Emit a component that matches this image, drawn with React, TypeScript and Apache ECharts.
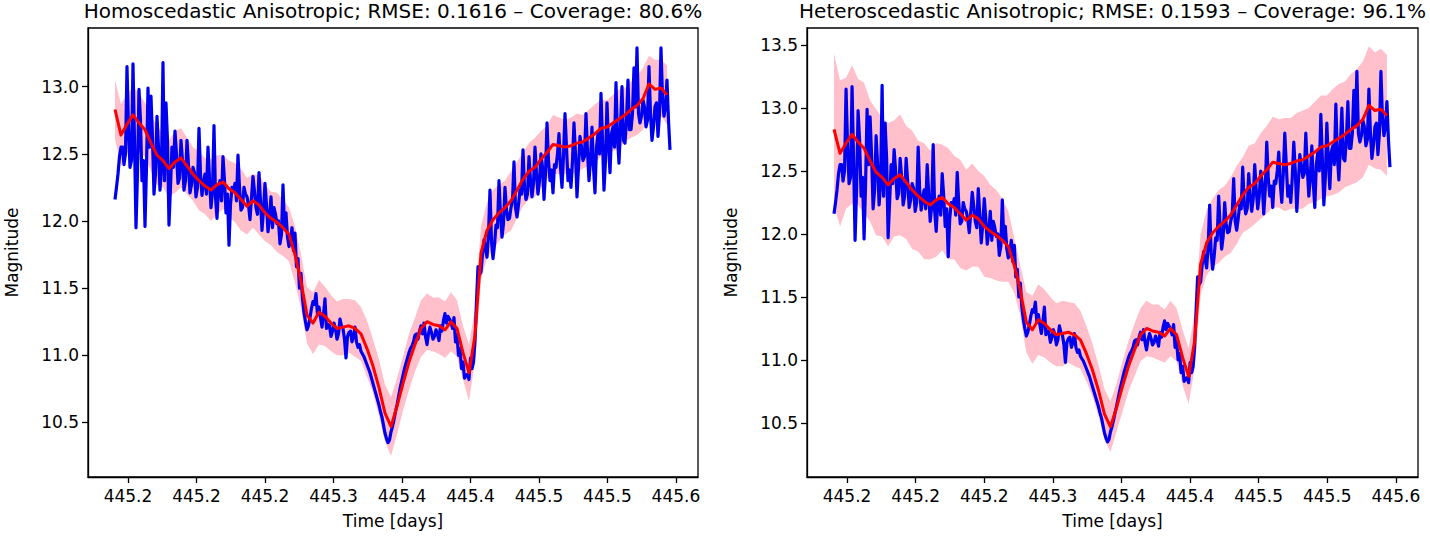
import React, { useEffect, useRef } from "react";
import * as echarts from "echarts";

// ---- Data ----
// Observation cadence: samples every DT days from T0; model grid every 4*DT.
const T0 = 445.1905;
const DT = 0.001095;

// Observed magnitudes (blue), even samples
const observed: number[] = [
  12.16, 12.35, 12.55, 12.42, 13.15, 12.40, 13.17, 11.95, 12.98, 12.30,
  11.96, 12.99, 12.93, 12.20, 12.78, 12.23, 13.18, 12.88, 11.97, 12.55,
  12.67, 12.28, 12.60, 12.23, 12.60, 12.21, 12.40, 12.18, 12.69, 12.19,
  12.35, 12.55, 12.10, 12.71, 12.02, 12.30, 12.48, 12.06, 11.82, 12.25,
  12.28, 12.49, 12.08, 12.25, 12.18, 12.01, 12.33, 12.10, 12.36, 11.93,
  12.28, 11.92, 12.18, 12.10, 11.98, 11.83, 12.27, 12.06, 11.81, 11.95,
  11.91, 11.72, 11.61,
  11.32, 11.19, 11.28, 11.40, 11.46, 11.36, 11.21, 11.42, 11.23, 11.14,
  11.24, 11.12, 11.27, 11.20, 10.98, 11.17, 11.10, 11.21, 11.06, 11.03,
  10.99, 10.93, 10.87, 10.79, 10.71, 10.63, 10.54, 10.42, 10.35, 10.43,
  10.52, 10.63, 10.75, 10.85, 10.94, 11.02, 11.07, 11.15, 11.12, 11.22,
  11.24, 11.08, 11.21, 11.12, 11.19, 11.11, 11.18, 11.31, 11.29, 11.25,
  11.28, 11.15, 11.05, 10.95, 10.85, 10.82, 10.90,
  11.10, 11.66, 11.62, 11.86, 11.73, 12.23, 11.72, 11.97, 12.30, 11.88,
  12.25, 12.01, 12.10, 12.44, 12.03, 12.23, 12.53, 12.16, 12.48, 12.18,
  12.55, 12.20, 12.50, 12.16, 12.73, 12.30, 12.21, 12.40, 12.65, 12.25,
  12.80, 12.30, 12.25, 12.73, 12.18, 12.63, 12.45, 12.80, 12.30, 12.70,
  12.21, 12.65, 12.95, 12.23, 12.88, 12.36, 12.70, 13.03, 12.43, 13.00,
  12.58, 13.05, 12.68, 13.14, 13.29, 12.73, 12.90, 12.70, 13.15, 12.60,
  12.85, 12.63, 13.29, 12.78, 13.05, 12.53,
];

// Observed magnitudes (blue), odd samples (between the even ones)
const observedMid: number[] = [
  12.25, 12.48, 12.55, 12.50, 12.70, 12.45, 12.60, 12.35, 12.75, 12.45,
  12.40, 12.55, 12.62, 12.35, 12.55, 12.40, 12.30, 12.60, 12.25, 12.40,
  12.50, 12.32, 12.45, 12.30, 12.42, 12.27, 12.36, 12.25, 12.35, 12.28,
  12.20, 12.32, 12.22, 12.18, 12.25, 12.15, 12.30, 12.20, 12.12, 12.22,
  12.15, 12.25, 12.10, 12.20, 12.12, 12.17, 12.22, 12.05, 12.15, 12.08,
  12.12, 12.02, 11.95, 12.05, 12.00, 11.90, 11.95, 11.88, 11.85, 11.78,
  11.66, 11.50,
  11.42, 11.25, 11.22, 11.35, 11.38, 11.30, 11.28, 11.30, 11.20, 11.22,
  11.18, 11.20, 11.16, 11.22, 11.12, 11.14, 11.18, 11.14, 11.10, 11.08,
  11.01, 10.96, 10.90, 10.83, 10.75, 10.67, 10.58, 10.48, 10.38, 10.37,
  10.47, 10.58, 10.69, 10.80, 10.90, 10.98, 11.05, 11.10, 11.16, 11.18,
  11.16, 11.14, 11.16, 11.17, 11.14, 11.16, 11.22, 11.26, 11.24, 11.27,
  11.20, 11.10, 11.00, 10.90, 10.83, 10.86, 10.98,
  10.95, 11.40, 11.60, 11.75, 11.80, 11.90, 11.85, 11.82, 11.95, 12.05,
  11.98, 12.08, 12.02, 12.15, 12.10, 12.12, 12.20, 12.25, 12.20, 12.30,
  12.28, 12.35, 12.30, 12.40, 12.35, 12.45, 12.38, 12.42, 12.50, 12.40,
  12.48, 12.55, 12.38, 12.45, 12.50, 12.40, 12.55, 12.48, 12.52, 12.45,
  12.40, 12.55, 12.50, 12.60, 12.45, 12.58, 12.65, 12.55, 12.62, 12.70,
  12.60, 12.75, 12.68, 12.80, 12.85, 12.80, 12.78, 12.85, 12.75, 12.80,
  12.70, 12.88, 12.80, 12.92, 12.85, 12.75,
];

// Predicted mean (red)
const predMean: number[] = [
  12.83, 12.64, 12.72, 12.79, 12.73, 12.68, 12.58, 12.49, 12.45, 12.39,
  12.44, 12.47, 12.41, 12.35, 12.30, 12.26, 12.23, 12.27, 12.29, 12.24,
  12.21, 12.16, 12.11, 12.15, 12.12, 12.06, 12.02, 11.99, 11.95, 11.90,
  11.75, 11.55, 11.30, 11.24, 11.32, 11.29, 11.24, 11.20, 11.21, 11.22,
  11.20, 11.16, 11.05, 10.92, 10.76, 10.57, 10.47, 10.62, 10.79, 10.95,
  11.08, 11.20, 11.25, 11.23, 11.22, 11.19, 11.25, 11.20, 11.02, 10.87,
  11.15, 11.76, 11.93, 12.01, 12.06, 12.10, 12.15, 12.23, 12.31, 12.37,
  12.40, 12.46, 12.51, 12.57, 12.56, 12.55, 12.56, 12.58, 12.59, 12.62,
  12.65, 12.69, 12.70, 12.73, 12.76, 12.79, 12.83, 12.86, 12.91, 13.02,
  12.98, 12.99, 12.94,
];

// Half-width of the uncertainty band, homoscedastic model
const homoHalfWidth: number[] = [
  0.22, 0.23, 0.22, 0.21, 0.22, 0.20, 0.21, 0.22, 0.20, 0.21,
  0.23, 0.22, 0.21, 0.20, 0.22, 0.21, 0.23, 0.22, 0.20, 0.21,
  0.22, 0.23, 0.21, 0.20, 0.22, 0.21, 0.20, 0.22, 0.21, 0.20,
  0.21, 0.20, 0.21, 0.23, 0.24, 0.22, 0.21, 0.20, 0.21, 0.20,
  0.21, 0.20, 0.21, 0.20, 0.21, 0.21, 0.22, 0.21, 0.20, 0.21,
  0.20, 0.21, 0.21, 0.20, 0.21, 0.21, 0.22, 0.21, 0.20, 0.21,
  0.20, 0.20, 0.21, 0.22, 0.21, 0.20, 0.22, 0.21, 0.20, 0.21,
  0.22, 0.21, 0.20, 0.22, 0.21, 0.20, 0.21, 0.22, 0.20, 0.21,
  0.22, 0.21, 0.20, 0.21, 0.22, 0.20, 0.21, 0.22, 0.23, 0.21,
  0.22, 0.21, 0.22,
];

// Half-width of the uncertainty band, heteroscedastic model
const heteroHalfWidth: number[] = [
  0.60, 0.58, 0.52, 0.55, 0.50, 0.52, 0.48, 0.50, 0.47, 0.49,
  0.46, 0.48, 0.45, 0.47, 0.44, 0.46, 0.43, 0.45, 0.42, 0.44,
  0.41, 0.43, 0.40, 0.41, 0.38, 0.40, 0.37, 0.36, 0.33, 0.28,
  0.22, 0.20, 0.24, 0.27, 0.28, 0.27, 0.26, 0.25, 0.26, 0.24,
  0.25, 0.23, 0.22, 0.21, 0.20, 0.20, 0.20, 0.19, 0.20, 0.20,
  0.21, 0.21, 0.22, 0.21, 0.22, 0.21, 0.22, 0.21, 0.22, 0.22,
  0.22, 0.24, 0.26, 0.27, 0.29, 0.28, 0.30, 0.31, 0.30, 0.33,
  0.32, 0.34, 0.35, 0.36, 0.35, 0.37, 0.36, 0.38, 0.39, 0.38,
  0.40, 0.41, 0.40, 0.42, 0.43, 0.42, 0.44, 0.45, 0.46, 0.47,
  0.46, 0.48, 0.48,
];

const xTickValues = [445.2, 445.25, 445.3, 445.35, 445.4, 445.45, 445.5, 445.55, 445.6];
const xTickLabels = ["445.2", "445.2", "445.2", "445.3", "445.4", "445.4", "445.5", "445.5", "445.6"];
const yTicksLeft = [10.5, 11.0, 11.5, 12.0, 12.5, 13.0];
const yTicksRight = [10.5, 11.0, 11.5, 12.0, 12.5, 13.0, 13.5];

const titles = [
  "Homoscedastic Anisotropic; RMSE: 0.1616 \u2013 Coverage: 80.6%",
  "Heteroscedastic Anisotropic; RMSE: 0.1593 \u2013 Coverage: 96.1%",
];

const FONT = "DejaVu Sans";
const X_MIN = 445.1708;
const X_MAX = 445.6161;

export default function App() {
  const ref = useRef<HTMLDivElement>(null);

  useEffect(() => {
    if (!ref.current) return;
    const chart = echarts.init(ref.current, undefined, { renderer: "svg" });

    // interleave even and odd observation samples in time order
    const obsData: number[][] = [];
    observed.forEach((v, i) => {
      obsData.push([T0 + 2 * i * DT, v]);
      if (i < observedMid.length) obsData.push([T0 + (2 * i + 1) * DT, observedMid[i]]);
    });
    const meanT = predMean.map((_, k) => T0 + 4 * k * DT);
    const meanData = predMean.map((v, k) => [meanT[k], v]);

    const grids = [
      { left: 88, top: 28, width: 610, height: 449 },
      { left: 807, top: 28, width: 611, height: 449 },
    ];
    const yRanges = [
      { min: 10.094, max: 13.437, ticks: yTicksLeft },
      { min: 10.071, max: 13.635, ticks: yTicksRight },
    ];
    const widths = [homoHalfWidth, heteroHalfWidth];

    const labelFor = (v: number) => {
      const i = xTickValues.findIndex((t) => Math.abs(t - v) < 1e-6);
      return i >= 0 ? xTickLabels[i] : "";
    };

    const axisLineStyle = { color: "#000", width: 1.3 };

    const xAxes = grids.map((_, gi) => ({
      type: "value",
      gridIndex: gi,
      min: X_MIN,
      max: X_MAX,
      name: "Time [days]",
      nameLocation: "middle",
      nameGap: 35,
      nameTextStyle: { fontSize: 17, color: "#000", fontFamily: FONT },
      axisLine: { show: true, onZero: false, lineStyle: axisLineStyle },
      axisTick: { show: true, inside: false, length: 6, lineStyle: axisLineStyle, customValues: xTickValues },
      axisLabel: {
        show: true,
        customValues: xTickValues,
        formatter: (v: number) => labelFor(v),
        fontSize: 17,
        color: "#000",
        fontFamily: FONT,
        margin: 10,
      },
      splitLine: { show: false },
    }));

    const yAxes = grids.map((_, gi) => ({
      type: "value",
      gridIndex: gi,
      min: yRanges[gi].min,
      max: yRanges[gi].max,
      name: "Magnitude",
      nameLocation: "middle",
      nameGap: 68,
      nameRotate: 90,
      nameTextStyle: { fontSize: 17, color: "#000", fontFamily: FONT },
      axisLine: { show: true, onZero: false, lineStyle: axisLineStyle },
      axisTick: { show: true, inside: false, length: 6, lineStyle: axisLineStyle, customValues: yRanges[gi].ticks },
      axisLabel: {
        show: true,
        customValues: yRanges[gi].ticks,
        formatter: (v: number) => v.toFixed(1),
        fontSize: 17,
        color: "#000",
        fontFamily: FONT,
        margin: 9,
      },
      splitLine: { show: false },
    }));

    const series: any[] = [];
    grids.forEach((_, gi) => {
      const w = widths[gi];
      const bandPts = predMean.map((v, k) => [meanT[k], v - w[k], v + w[k]]);
      series.push({
        type: "custom",
        xAxisIndex: gi,
        yAxisIndex: gi,
        silent: true,
        z: 1,
        data: bandPts,
        encode: { x: 0, y: [1, 2] },
        renderItem: (params: any, api: any) => {
          if (params.dataIndex !== 0) return null;
          const upper = bandPts.map((p) => api.coord([p[0], p[2]]));
          const lower = bandPts.map((p) => api.coord([p[0], p[1]])).reverse();
          return {
            type: "polygon",
            shape: { points: upper.concat(lower) },
            style: { fill: "#ffc0cb", stroke: "none" },
          };
        },
      });
      series.push({
        type: "line",
        xAxisIndex: gi,
        yAxisIndex: gi,
        data: obsData,
        symbol: "none",
        silent: true,
        lineStyle: { color: "#0000f0", width: 3.2, join: "round" },
        z: 2,
      });
      series.push({
        type: "line",
        xAxisIndex: gi,
        yAxisIndex: gi,
        data: meanData,
        symbol: "none",
        silent: true,
        lineStyle: { color: "#ff0000", width: 3, join: "round" },
        z: 3,
      });
    });

    const graphics = grids.map((g, gi) => ({
      type: "text",
      x: g.left + g.width / 2,
      y: 11,
      style: {
        text: titles[gi],
        fontSize: 20,
        fontFamily: FONT,
        fill: "#000",
        textAlign: "center",
        textVerticalAlign: "middle",
      },
    }));

    chart.setOption({
      animation: false,
      backgroundColor: "#fff",
      grid: grids.map((g) => ({ ...g, show: true, borderColor: "#000", borderWidth: 1.3, backgroundColor: "transparent" })),
      xAxis: xAxes,
      yAxis: yAxes,
      series,
      graphic: graphics,
    });

    return () => chart.dispose();
  }, []);

  return (
    <div
      ref={ref}
      style={{ position: "absolute", left: 0, top: 0, width: 1430, height: 541, background: "#fff" }}
    />
  );
}
